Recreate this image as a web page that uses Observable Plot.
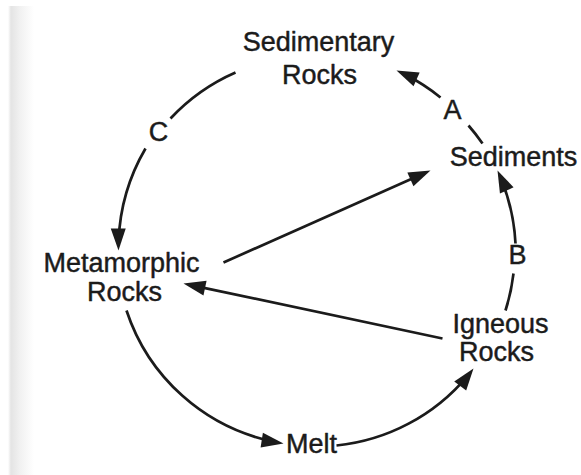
<!DOCTYPE html>
<html>
<head>
<meta charset="utf-8">
<script src="https://cdn.jsdelivr.net/npm/d3@7"></script>
<script src="https://cdn.jsdelivr.net/npm/@observablehq/plot@0.6"></script>
<style>
  html, body { margin: 0; padding: 0; background: #fff; }
  #wrap { position: relative; width: 581px; height: 475px; overflow: hidden; }
  #edge { position: absolute; left: 0; top: 6px; width: 40px; height: 469px;
          background: linear-gradient(to right, #fff 0px, #fff 8px, #e4e4e4 11px, #f1f1f1 20px, #fff 34px); }
  #chart { position: absolute; left: 0; top: 0; }
</style>
</head>
<body>
<div id="wrap"><div id="edge"></div><div id="chart"></div></div>
<script>
// Labels of the rock cycle (one entry per text line), with centre x and baseline y
const labelText = ["Sedimentary", "Rocks", "Sediments", "Metamorphic", "Rocks", "Igneous", "Rocks", "Melt", "A", "B", "C"];
const labelX    = [318, 319, 513, 121, 124, 500, 496, 311, 452, 517, 158];
const labelY    = [50, 83, 165, 271, 300, 332, 360, 452, 118, 263, 140];

// Connecting segments: start, end, bend (degrees, negative = counterclockwise), head
const segX1   = [235, 145, 126, 336, 505, 515, 482, 440, 223, 442];
const segY1   = [72, 148, 310, 445, 310, 243, 143, 97, 262, 338];
const segX2   = [170, 118, 283, 473, 513, 497, 468, 396, 430, 183];
const segY2   = [118, 250, 443, 368, 273, 170, 125, 70, 170, 283];
const segBend = [-11.7, -15.5, -31.5, -23.5, -5.5, -11, -3.3, -7.5, 0, 0];
const segHead = [false, true, true, true, false, true, false, true, true, true];

const ink = "#1b1b1b";
const fontSize = 27;

const segs = segX1.map((_, i) => ({
  x1: segX1[i], y1: segY1[i], x2: segX2[i], y2: segY2[i],
  bend: segBend[i], head: segHead[i]
}));
const labels = labelText.map((t, i) => ({text: t, x: labelX[i], y: labelY[i]}));

// filled arrowhead symbol, tip at origin, pointing up
const arrowHead = {
  draw(ctx) {
    ctx.moveTo(0, 0);
    ctx.lineTo(7.5, 22);
    ctx.lineTo(-7.5, 22);
    ctx.closePath();
  }
};
const endAngleDeg = (d) =>
  Math.atan2(d.y2 - d.y1, d.x2 - d.x1) * 180 / Math.PI + d.bend;

const bends = [...new Set(segBend)];
const arrowMarks = [];
for (const b of bends) {
  const plain = segs.filter(d => d.bend === b && !d.head);
  const headed = segs.filter(d => d.bend === b && d.head);
  if (plain.length) arrowMarks.push(Plot.arrow(plain, {
    x1: "x1", y1: "y1", x2: "x2", y2: "y2", bend: b, headLength: 0,
    stroke: ink, strokeWidth: 2.7, strokeLinecap: "butt"
  }));
  if (headed.length) arrowMarks.push(Plot.arrow(headed, {
    x1: "x1", y1: "y1", x2: "x2", y2: "y2", bend: b, headLength: 0, insetEnd: 10,
    stroke: ink, strokeWidth: 2.7, strokeLinecap: "butt"
  }));
}

const chart = Plot.plot({
  width: 581,
  height: 475,
  margin: 0,
  x: {domain: [0, 581], range: [0, 581], axis: null},
  y: {domain: [0, 475], range: [0, 475], axis: null},
  style: {background: "transparent", overflow: "visible"},
  marks: [
    ...arrowMarks,
    Plot.dot(segs.filter(d => d.head), {
      x: "x2", y: "y2", symbol: arrowHead, r: 5,
      rotate: (d) => endAngleDeg(d) + 90,
      fill: ink, stroke: "none"
    }),
    Plot.text(labels, {
      x: "x", y: "y", text: "text", textAnchor: "middle",
      dy: -0.32 * fontSize, fontSize: fontSize, fill: ink,
      stroke: ink, strokeWidth: 0.45,
      fontFamily: "'Liberation Sans', Arial, Helvetica, sans-serif"
    })
  ]
});
document.getElementById("chart").appendChild(chart);
</script>
</body>
</html>
